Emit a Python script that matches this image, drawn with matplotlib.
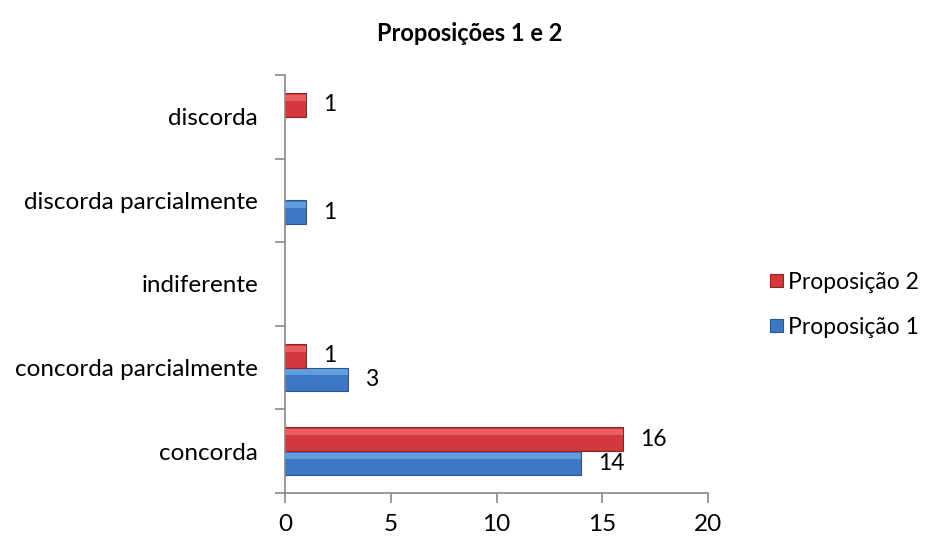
import numpy as np
import matplotlib
matplotlib.use('Agg')
import matplotlib.pyplot as plt

categories = ['concorda', 'concorda parcialmente', 'indiferente', 'discorda parcialmente', 'discorda']
prop1 = [14, 3, 0, 1, 0]
prop2 = [16, 1, 0, 0, 1]
series_names = ['Proposição 1', 'Proposição 2']

plt.rcParams['font.family'] = ['Lato', 'DejaVu Sans']

fig = plt.figure(figsize=(9.26, 5.41), dpi=100)
ax = fig.add_axes([0.3078, 0.0887, 0.4568, 0.7727])

y = np.arange(len(categories))
h = 0.285
blue, blue_hi, blue_edge = '#3d78c4', '#6aa6e8', '#2a5690'
red, red_hi, red_edge = '#d2383c', '#ee6a6c', '#8e2224'


def edges(vals, c):
    # no outline on empty bars, so nothing shows at x=0
    return [c if v > 0 else 'none' for v in vals]


ax.barh(y - h / 2, prop1, height=h, color=blue, edgecolor=edges(prop1, blue_edge), linewidth=0.8,
        label=series_names[0], zorder=2)
ax.barh(y + h / 2, prop2, height=h, color=red, edgecolor=edges(prop2, red_edge), linewidth=0.8,
        label=series_names[1], zorder=2)
# lighter band near the top of each bar, for the bevel look
ax.barh(y - h / 2 + h * 0.3, prop1, height=h * 0.25, color=blue_hi, linewidth=0, zorder=3, alpha=0.8)
ax.barh(y + h / 2 + h * 0.3, prop2, height=h * 0.25, color=red_hi, linewidth=0, zorder=3, alpha=0.8)

for vals, off in [(prop1, -h / 2), (prop2, h / 2)]:
    for i, v in enumerate(vals):
        if v > 0:
            ax.annotate(str(v), (v, i + off), xytext=(12, 0), textcoords='offset points',
                        va='center', ha='left', fontsize=16.5)

ax.set_xlim(0, 20)
ax.set_ylim(-0.5, len(categories) - 0.5)
ax.set_xticks([0, 5, 10, 15, 20])
ax.set_yticks(y)
ax.set_yticklabels(categories)
ax.set_yticks(np.arange(-0.5, len(categories), 1), minor=True)
ax.tick_params(axis='y', which='major', length=0, pad=19.5, labelsize=17.5)
ax.tick_params(axis='y', which='minor', length=7, color='#888888', width=1.2)
ax.tick_params(axis='x', length=7, color='#888888', width=1.2, pad=8, labelsize=17.5)

for s in ['top', 'right']:
    ax.spines[s].set_visible(False)
for s in ['left', 'bottom']:
    ax.spines[s].set_color('#888888')
    ax.spines[s].set_linewidth(1.2)

fig.suptitle('Proposições 1 e 2', x=0.507, y=0.939, va='center', fontsize=17, fontweight='bold')

handles, labels = ax.get_legend_handles_labels()
leg = fig.legend(handles[::-1], labels[::-1], loc='center left', bbox_to_anchor=(0.8315, 0.437),
                 frameon=False, fontsize=16.5, handlelength=0.55, handleheight=0.55,
                 handletextpad=0.25, labelspacing=1.05, borderpad=0, borderaxespad=0)

fig.savefig('out.png', dpi=100)
